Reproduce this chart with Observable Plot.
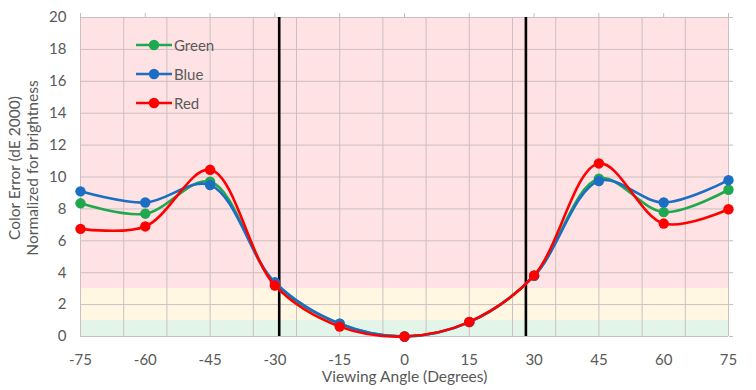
<!DOCTYPE html>
<html>
<head>
<meta charset="utf-8">
<script src="https://cdn.jsdelivr.net/npm/d3@7"></script>
<script src="https://cdn.jsdelivr.net/npm/@observablehq/plot@0.6"></script>
<style>
  html, body { margin: 0; padding: 0; background: #fff; }
  #wrap { position: relative; width: 756px; height: 390px; font-family: Lato, "Open Sans", sans-serif; }
  #legend { position: absolute; left: 136px; top: 30px; }
  .lg-row { display: flex; align-items: center; height: 29px; font-size: 15px; color: #595959; }
  .lg-row svg { margin-right: 2px; }
</style>
</head>
<body>
<div id="wrap"></div>
<script>
// ---- data ----
const angles = [-75, -60, -45, -30, -15, 0, 15, 30, 45, 60, 75];
const seriesNames = ["Green", "Blue", "Red"];
const seriesColors = ["#1fa84f", "#1b6ec2", "#ff0000"];
const greenValues = [8.35, 7.7, 9.7, 3.3, 0.8, 0, 0.9, 3.8, 9.9, 7.8, 9.2];
const blueValues  = [9.1, 8.4, 9.5, 3.4, 0.8, 0, 0.9, 3.8, 9.75, 8.4, 9.8];
const redValues   = [6.75, 6.9, 10.45, 3.2, 0.62, 0, 0.92, 3.83, 10.85, 7.08, 7.98];
const xTicks = [-75, -60, -45, -30, -15, 0, 15, 30, 45, 60, 75];
const xGrid = [-75, -65, -55, -45, -35, -25, -15, -5, 5, 15, 25, 35, 45, 55, 65, 75];
const yTicks = [0, 2, 4, 6, 8, 10, 12, 14, 16, 18, 20];
const cutoffAngles = [-29, 28.1];
const bandLow = [0, 1, 3];
const bandHigh = [1, 3, 20];
const bandColors = ["#e3f5e9", "#fff7e2", "#ffe2e3"];
const yTitle1 = "Color Error (dE 2000)";
const yTitle2 = "Normalized for brightness";
const xTitle = "Viewing Angle (Degrees)";

const valuesBySeries = [greenValues, blueValues, redValues];
const rows = seriesNames.map((name, i) => angles.map((a, j) => ({series: name, angle: a, value: valuesBySeries[i][j]})));
const bands = bandLow.map((lo, i) => ({lo, hi: bandHigh[i], fill: bandColors[i]}));

const seriesMarks = rows.flatMap((data, i) => [
  Plot.line(data, {x: "angle", y: "value", stroke: seriesColors[i], strokeWidth: 2.6, curve: "catmull-rom"}),
  Plot.dot(data, {x: "angle", y: "value", fill: seriesColors[i], r: 5.2})
]);

const chart = Plot.plot({
  width: 756,
  height: 390,
  marginLeft: 80,
  marginRight: 28,
  marginTop: 17,
  marginBottom: 54,
  style: {fontFamily: "Lato, 'Open Sans', sans-serif", fontSize: "15px", color: "#595959", background: "white"},
  x: {domain: [-75, 75]},
  y: {domain: [0, 20]},
  marks: [
    Plot.rect(bands, {y1: "lo", y2: "hi", fill: "fill"}),
    Plot.ruleX(xGrid, {stroke: "#cdbfc1", strokeWidth: 1}),
    Plot.ruleY(yTicks, {stroke: "#cdbfc1", strokeWidth: 1}),
    Plot.axisX({anchor: "top", ticks: xTicks, tickSize: 5, tickFormat: () => "", label: null, stroke: "#bfbfbf"}),
    Plot.axisY({anchor: "right", ticks: yTicks, tickSize: 4, tickFormat: () => "", label: null, stroke: "#bfbfbf"}),
    Plot.axisX({anchor: "bottom", ticks: xTicks, tickSize: 0, tickPadding: 18, tickFormat: d => String(d), label: null, fill: "#595959"}),
    Plot.text([xTitle], {frameAnchor: "bottom", text: d => d, dy: 45, fill: "#595959", fontSize: 15.5, textAnchor: "middle"}),
    Plot.axisY({anchor: "left", ticks: yTicks, tickSize: 0, tickPadding: 14, label: null, fill: "#595959"}),
    Plot.text([yTitle1], {frameAnchor: "left", text: d => d, rotate: -90, dx: -65, dy: -9, fill: "#595959", fontSize: 15.5, textAnchor: "middle"}),
    Plot.text([yTitle2], {frameAnchor: "left", text: d => d, rotate: -90, dx: -47, dy: -9, fill: "#595959", fontSize: 15.5, textAnchor: "middle"}),
    Plot.ruleX(cutoffAngles, {stroke: "black", strokeWidth: 2.6}),
    ...seriesMarks
  ]
});

const wrap = document.getElementById("wrap");
wrap.appendChild(chart);

// legend overlay
const legend = document.createElement("div");
legend.id = "legend";
seriesNames.forEach((name, i) => {
  const row = document.createElement("div");
  row.className = "lg-row";
  row.innerHTML = `<svg width="36" height="12"><line x1="0" y1="6" x2="36" y2="6" stroke="${seriesColors[i]}" stroke-width="2.6"/><circle cx="18" cy="6" r="5.2" fill="${seriesColors[i]}"/></svg><span>${name}</span>`;
  legend.appendChild(row);
});
wrap.appendChild(legend);
</script>
</body>
</html>
